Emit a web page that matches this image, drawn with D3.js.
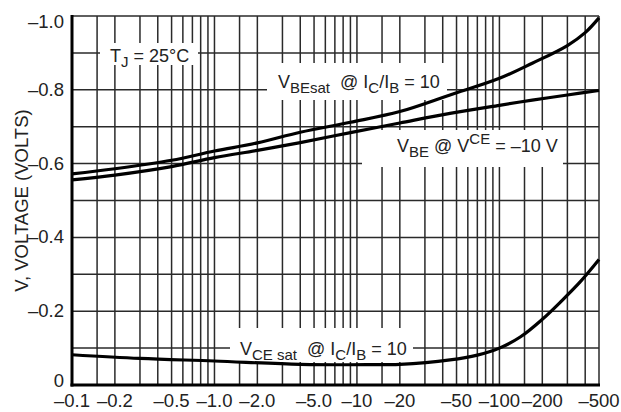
<!DOCTYPE html>
<html lang="en">
<head>
    <meta charset="UTF-8">
    <title>Voltage vs Collector Current</title>
    <script src="https://d3js.org/d3.v7.min.js"></script>
    <style>
        body {
            margin: 0;
            background: #fff;
            font-family: "Liberation Sans", Arial, Helvetica, sans-serif;
        }
        svg {
            display: block;
        }
        .grid line {
            stroke: #2a2a2a;
            stroke-width: 1.5;
        }
        .curve {
            fill: none;
            stroke: #000;
            stroke-width: 3.2;
        }
        .tick-label {
            font-size: 18.5px;
            fill: #222;
        }
        .note {
            font-size: 18px;
            fill: #222;
            white-space: pre;
        }
    </style>
</head>
<body>
    <svg width="621" height="412"></svg>

    <script>
        // collector current (mA, magnitude) and voltages (V, magnitude)
        const vbeSatI = [0.1, 0.2, 0.5, 1, 2, 4, 9, 20, 45, 100, 170, 300, 400, 500];
        const vbeSatV = [0.572, 0.586, 0.609, 0.634, 0.656, 0.685, 0.712, 0.741, 0.786, 0.831, 0.872, 0.92, 0.955, 0.995];

        const vbeI = [0.1, 0.2, 0.5, 1, 2, 4, 9, 20, 45, 100, 170, 300, 500];
        const vbeV = [0.556, 0.569, 0.592, 0.616, 0.636, 0.657, 0.684, 0.71, 0.736, 0.758, 0.772, 0.786, 0.798];

        const vceSatI = [0.1, 0.3, 1, 4, 12, 20, 45, 70, 100, 140, 200, 270, 370, 500];
        const vceSatV = [0.082, 0.072, 0.065, 0.056, 0.055, 0.056, 0.068, 0.081, 0.1, 0.13, 0.178, 0.226, 0.28, 0.34];

        const xTicks = [0.1, 0.2, 0.5, 1, 2, 5, 10, 20, 50, 100, 200, 500];
        const xTickLabels = ["–0.1", "–0.2", "–0.5", "–1.0", "–2.0", "–5.0", "–10", "–20", "–50", "–100", "–200", "–500"];
        const yTicks = [0, 0.2, 0.4, 0.6, 0.8, 1.0];
        const yTickLabels = ["0", "–0.2", "–0.4", "–0.6", "–0.8", "–1.0"];
        const gridMantissas = [1, 1.5, 2, 3, 4, 5, 6, 7, 8, 9];
        const gridDecades = [0.1, 1, 10, 100];

        const svg = d3.select("svg");
        const plotL = 72, plotR = 599, plotT = 16, plotB = 385;

        const x = d3.scaleLog().domain([0.1, 500]).range([plotL, plotR]);
        const y = d3.scaleLinear().domain([0, 1]).range([plotB, plotT]);

        // grid
        const gridX = [];
        gridDecades.forEach(d => gridMantissas.forEach(m => {
            const v = +(d * m).toPrecision(3);
            if (v > 0.1 && v < 500) gridX.push(v);
        }));
        const gridY = d3.range(1, 11).map(i => i / 10);

        const grid = svg.append("g").attr("class", "grid");
        grid.selectAll(".gx").data(gridX).enter().append("line")
            .attr("x1", d => x(d)).attr("x2", d => x(d))
            .attr("y1", plotT).attr("y2", plotB);
        grid.selectAll(".gy").data(gridY).enter().append("line")
            .attr("x1", plotL).attr("x2", plotR)
            .attr("y1", d => y(d)).attr("y2", d => y(d));
        grid.append("line").attr("x1", plotR).attr("x2", plotR).attr("y1", plotT).attr("y2", plotB);

        // white boxes behind the curve labels
        const boxes = [
            [100, 43, 98, 22],
            [267, 63, 180, 37],
            [362, 130, 201, 37],
            [230, 328, 183, 34]
        ];
        svg.append("g").selectAll("rect").data(boxes).enter().append("rect")
            .attr("x", d => d[0]).attr("y", d => d[1])
            .attr("width", d => d[2]).attr("height", d => d[3])
            .attr("fill", "#fff");

        // axes lines (thick left and bottom)
        svg.append("line").attr("x1", plotL).attr("x2", plotL).attr("y1", plotT - 1).attr("y2", plotB + 1.5)
            .attr("stroke", "#000").attr("stroke-width", 3);
        svg.append("line").attr("x1", plotL - 1.5).attr("x2", plotR + 1).attr("y1", plotB).attr("y2", plotB)
            .attr("stroke", "#000").attr("stroke-width", 3);

        // tick labels
        svg.append("g").selectAll("text").data(xTicks).enter().append("text")
            .attr("class", "tick-label")
            .attr("x", d => x(d))
            .attr("y", 407)
            .attr("font-size", 18)
            .attr("text-anchor", "middle")
            .text((d, i) => xTickLabels[i]);

        svg.append("g").selectAll("text").data(yTicks).enter().append("text")
            .attr("class", "tick-label")
            .attr("x", 64)
            .attr("y", d => d === 1 ? y(d) + 12 : d === 0 ? y(d) + 2 : y(d) + 6)
            .attr("text-anchor", "end")
            .text((d, i) => yTickLabels[i]);

        svg.append("text")
            .attr("class", "tick-label")
            .attr("transform", "translate(28," + ((plotT + plotB) / 2) + ") rotate(-90)")
            .attr("text-anchor", "middle")
            .text("V, VOLTAGE (VOLTS)");

        // curves
        const line = d3.line()
            .x(d => x(d[0]))
            .y(d => y(d[1]))
            .curve(d3.curveCatmullRom);

        [[vbeSatI, vbeSatV], [vbeI, vbeV], [vceSatI, vceSatV]].forEach(([is, vs]) => {
            svg.append("path")
                .attr("class", "curve")
                .attr("d", line(is.map((v, i) => [v, vs[i]])));
        });

        // labels with sub/superscripts: parts are [text, kind] where kind is none, "sub" or "sup"
        function note(px, py, parts) {
            const t = svg.append("text").attr("class", "note").attr("x", px).attr("y", py);
            let cur = 0;
            parts.forEach(([s, kind]) => {
                const target = kind === "sub" ? 5 : kind === "sup" ? -8 : 0;
                t.append("tspan")
                    .attr("dy", target - cur)
                    .attr("font-size", kind ? 15 : 18)
                    .text(s);
                cur = target;
            });
        }

        note(110, 62, [["T"], ["J", "sub"], [" = 25°C"]]);
        note(278, 88, [["V"], ["BEsat", "sub"], ["  @ I"], ["C", "sub"], ["/I"], ["B", "sub"], [" = 10"]]);
        note(397, 152, [["V"], ["BE", "sub"], [" @ V"], ["CE", "sup"], [" = –10 V"]]);
        note(240, 355, [["V"], ["CE sat", "sub"], ["  @ I"], ["C", "sub"], ["/I"], ["B", "sub"], [" = 10"]]);
    </script>
</body>
</html>
